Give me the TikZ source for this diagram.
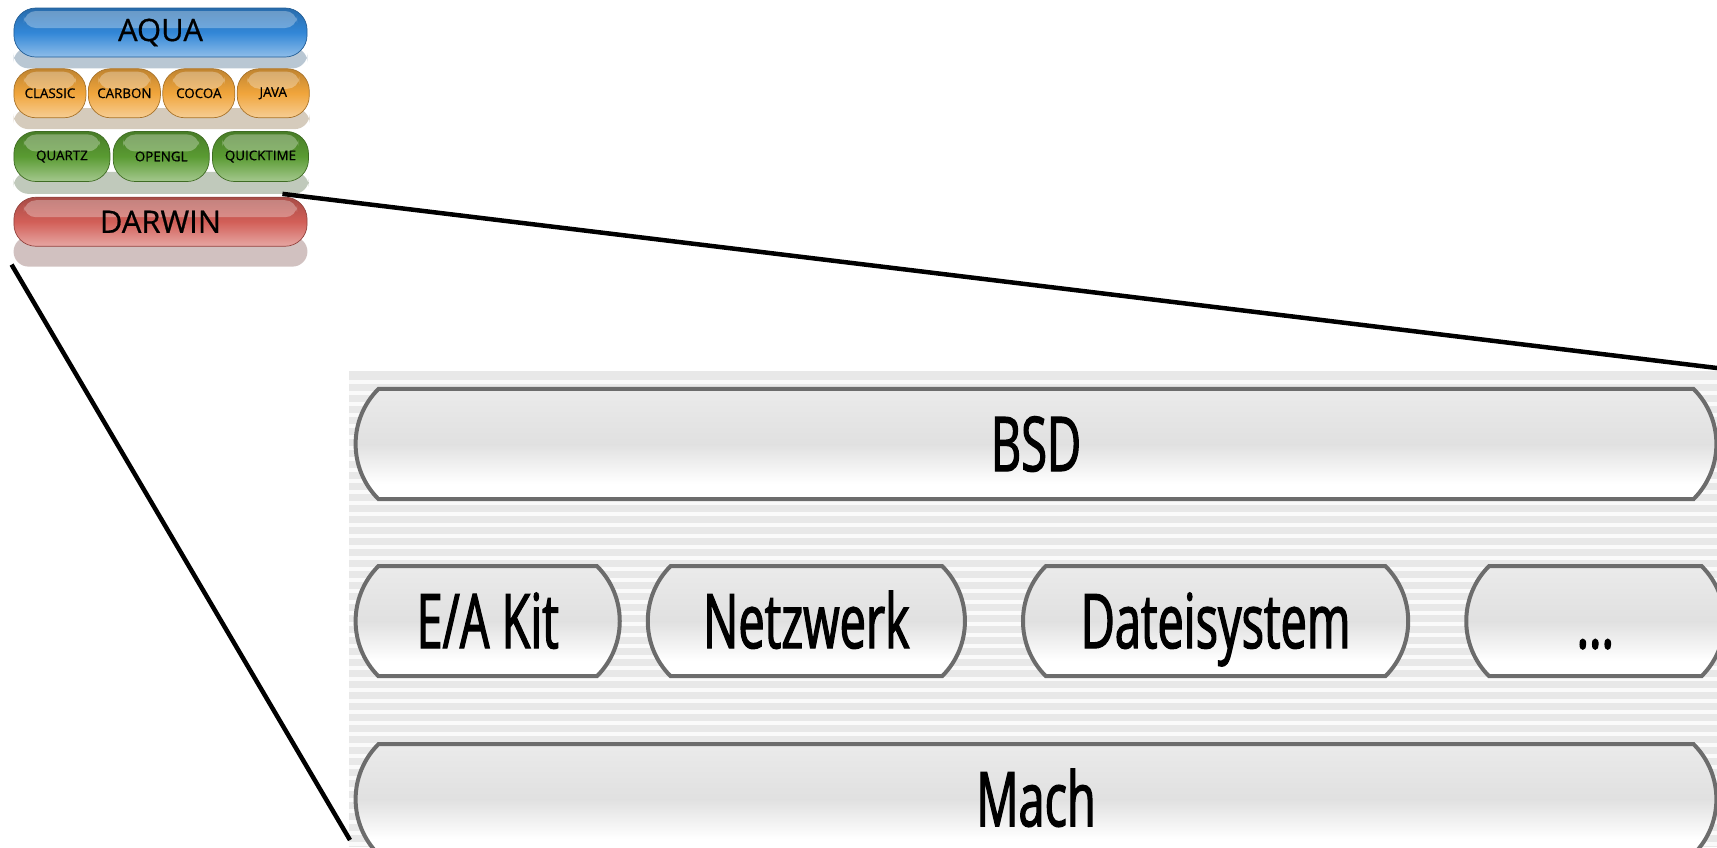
\documentclass[tikz,border=0pt]{standalone}
\usepackage{fontspec}
\setmainfont{Open Sans}
\newfontfamily\panelfont[FakeStretch=0.62, FakeBold=1.6]{Open Sans}
\newfontfamily\stackfont[FakeBold=0.6]{Open Sans}
\usetikzlibrary{shapes.misc, positioning, calc, backgrounds}
\definecolor{aquaBlue}{RGB}{50,135,215}
\definecolor{aquaOrange}{RGB}{240,165,60}
\definecolor{aquaGreen}{RGB}{90,155,50}
\definecolor{aquaRed}{RGB}{210,95,88}
\definecolor{pillBorder}{RGB}{108,108,108}
\definecolor{stripeGray}{RGB}{232,232,232}
\pgfdeclareverticalshading{pillshade}{100bp}{color(0bp)=(white); color(32bp)=(white); color(50bp)=(black!12); color(75bp)=(black!8); color(100bp)=(black!6)}

\begin{document}
\begin{tikzpicture}[
        x=0.01cm, y=-0.01cm,
        jelly/.style={rectangle, rounded corners=0.22cm, draw=#1!70!black, line width=0.2pt,
            top color=#1!80!black, bottom color=#1!55!white, middle color=#1,
            inner sep=0pt, text=black,
            path picture={\fill[white, opacity=0.3, rounded corners=0.12cm]
                ([xshift=0.1cm, yshift=-0.03cm]path picture bounding box.north west) rectangle
                ([xshift=-0.1cm, yshift=-0.2cm]path picture bounding box.north east);}},
        smallpill/.style={minimum width=0.72cm, minimum height=0.49cm, font=\stackfont\fontsize{3.8}{4}\selectfont},
        greenpill/.style={minimum width=0.96cm, minimum height=0.5cm, font=\stackfont\fontsize{3.8}{4}\selectfont},
        rowshadow/.style={fill=#1, opacity=0.45, rounded corners=0.15cm},
        panelpill/.style={rounded rectangle, rounded rectangle arc length=90, draw=pillBorder,
            line width=0.04cm, inner sep=0pt, shading=pillshade, minimum height=1.1cm,
            text height=0.54cm, text depth=0cm,
            font=\panelfont\fontsize{21.5}{24}\selectfont},
        zoomline/.style={black, line width=0.045cm}
    ]
        \useasboundingbox (0,0) rectangle (1717,847);

        % Small layer stack
        \node[jelly=aquaBlue, minimum width=2.93cm, minimum height=0.49cm, font=\stackfont\fontsize{8.8}{10}\selectfont] (aqua) at (160.5,32.5) {AQUA};

        \node[jelly=aquaOrange, smallpill, below=0.11cm of aqua.south west, anchor=north west] (classic) {CLASSIC};
        \node[jelly=aquaOrange, smallpill, right=0.017cm of classic] (carbon) {CARBON};
        \node[jelly=aquaOrange, smallpill, right=0.017cm of carbon] (cocoa) {COCOA};
        \node[jelly=aquaOrange, smallpill, right=0.017cm of cocoa] (java) {JAVA};

        \node[jelly=aquaGreen, greenpill, below=0.13cm of classic.south west, anchor=north west] (quartz) {QUARTZ};
        \node[jelly=aquaGreen, greenpill, right=0.025cm of quartz] (opengl) {OPENGL};
        \node[jelly=aquaGreen, greenpill, right=0.025cm of opengl] (quicktime) {QUICKTIME};

        \node[jelly=aquaRed, minimum width=2.93cm, minimum height=0.49cm, font=\stackfont\fontsize{8.8}{10}\selectfont,
            below=0.15cm of quartz.south west, anchor=north west] (darwin) {DARWIN};

        % Shadows
        \begin{scope}[on background layer]
            \fill[rowshadow=aquaBlue!35!gray] ([yshift=0.1cm]aqua.south west) rectangle ([yshift=-0.11cm]aqua.south east);
            \fill[rowshadow=aquaOrange!30!gray] ([yshift=0.1cm]classic.south west) rectangle ([yshift=-0.11cm]java.south east);
            \fill[rowshadow=aquaGreen!30!gray] ([yshift=0.1cm]quartz.south west) rectangle ([yshift=-0.12cm]quicktime.south east);
            \fill[rowshadow=aquaRed!30!gray] ([yshift=0.1cm]darwin.south west) rectangle ([yshift=-0.2cm]darwin.south east);
        \end{scope}

        % Darwin panel
        \fill[stripeGray] (349,371) rectangle (1717,847);
        \foreach \y in {380,391,...,847}
            \fill[white, opacity=0.8] (349,\y) rectangle (1717,\y+4);

        \node[panelpill, minimum width=13.6cm] (bsd) at (1036,444) {BSD};

        \node[panelpill, minimum width=2.64cm, below=0.63cm of bsd.south west, anchor=north west] (eakit) {E/A Kit};
        \node[panelpill, minimum width=3.17cm, right=0.24cm of eakit] (netz) {Netzwerk};
        \node[panelpill, minimum width=3.85cm, right=0.54cm of netz] (dsys) {Dateisystem};
        \node[panelpill, minimum width=2.58cm, right=0.54cm of dsys] (more) {...};

        \node[panelpill, minimum width=13.6cm, below=0.64cm of eakit.south west, anchor=north west] (mach) {Mach};

        % Zoom lines
        \coordinate (zoomtop) at (1717,368);
        \coordinate (zoombot) at (350,840);
        \draw[zoomline] ([xshift=-0.25cm, yshift=0.03cm]darwin.north east) -- (zoomtop);
        \draw[zoomline] ([xshift=-0.02cm, yshift=-0.18cm]darwin.south west) -- (zoombot);
    \end{tikzpicture}
\end{document}
